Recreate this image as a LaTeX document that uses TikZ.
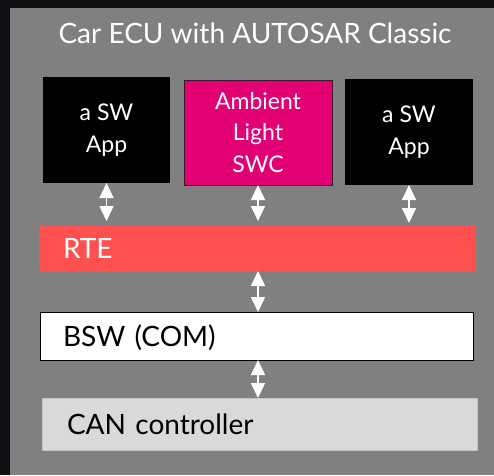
\documentclass[tikz,border=0pt]{standalone}
\usepackage{fontspec}
\setmainfont{Lato}
\usetikzlibrary{arrows.meta}
\definecolor{bgdark}{HTML}{0F1013}
\definecolor{panel}{HTML}{808080}
\definecolor{ambpink}{HTML}{E20074}
\definecolor{ambborder}{HTML}{3A1A2A}
\definecolor{rtered}{HTML}{FF5050}
\definecolor{cangrey}{HTML}{D9D9D9}
\definecolor{canborder}{HTML}{C4C4C4}
\begin{document}
\begin{tikzpicture}[x=1pt,y=-1pt,
  appbox/.style={rectangle, inner sep=0pt, outer sep=0pt, align=center, text=white,
    font=\fontsize{23}{31.5}\selectfont},
  layer/.style={rectangle, inner ysep=0pt, outer sep=0pt, align=left,
    font=\fontsize{28}{32}\selectfont, text height=20pt, text depth=0pt},
  dbl/.style={{Triangle[width=14pt,length=15pt]}-{Triangle[width=14pt,length=15pt]},
    draw=white, fill=white, line width=1.5pt}
]
\fill[bgdark] (0,0) rectangle (494,475);
\useasboundingbox (0,0) rectangle (494,475);
\fill[panel] (10,8) rectangle (494,475);
\node[anchor=base, text=white, font=\fontsize{28}{34}\selectfont] (title) at (255,43.3) {Car ECU with AUTOSAR Classic};
\node[appbox, fill=black, minimum width=127pt, minimum height=106pt] (app1) at (106.5,130) {a SW\\App};
\node[appbox, fill=ambpink, draw=ambborder, line width=0.8pt, minimum width=148pt, minimum height=105pt] (amb) at (258,132.5) {Ambient\\Light\\SWC};
\node[appbox, fill=black, minimum width=128pt, minimum height=106pt] (app2) at (409,132) {a SW\\App};
\node[layer, fill=rtered, text=white, inner xsep=24pt, text width=389pt, minimum height=45pt] (rte) at (257.5,248.5) {RTE};
\node[layer, fill=white, draw=black, line width=0.8pt, text=black, inner xsep=23pt, text width=387pt, minimum height=48pt] (bsw) at (256.5,336) {BSW (COM)};
\node[layer, fill=cangrey, draw=canborder, line width=0.8pt, text=black, inner xsep=25pt, text width=385pt, minimum height=52pt] (can) at (259.5,424) {CAN controller};
\draw[dbl, shorten >=5pt] (app1.south) -- (app1.south |- rte.north);
\draw[dbl, shorten >=5pt] (amb.south) -- (amb.south |- rte.north);
\draw[dbl, shorten >=3pt] (app2.south) -- (app2.south |- rte.north);
\draw[dbl] (rte.south -| amb.south) -- (bsw.north -| amb.south);
\draw[dbl] (bsw.south -| amb.south) -- (can.north -| amb.south);
\end{tikzpicture}
\end{document}
